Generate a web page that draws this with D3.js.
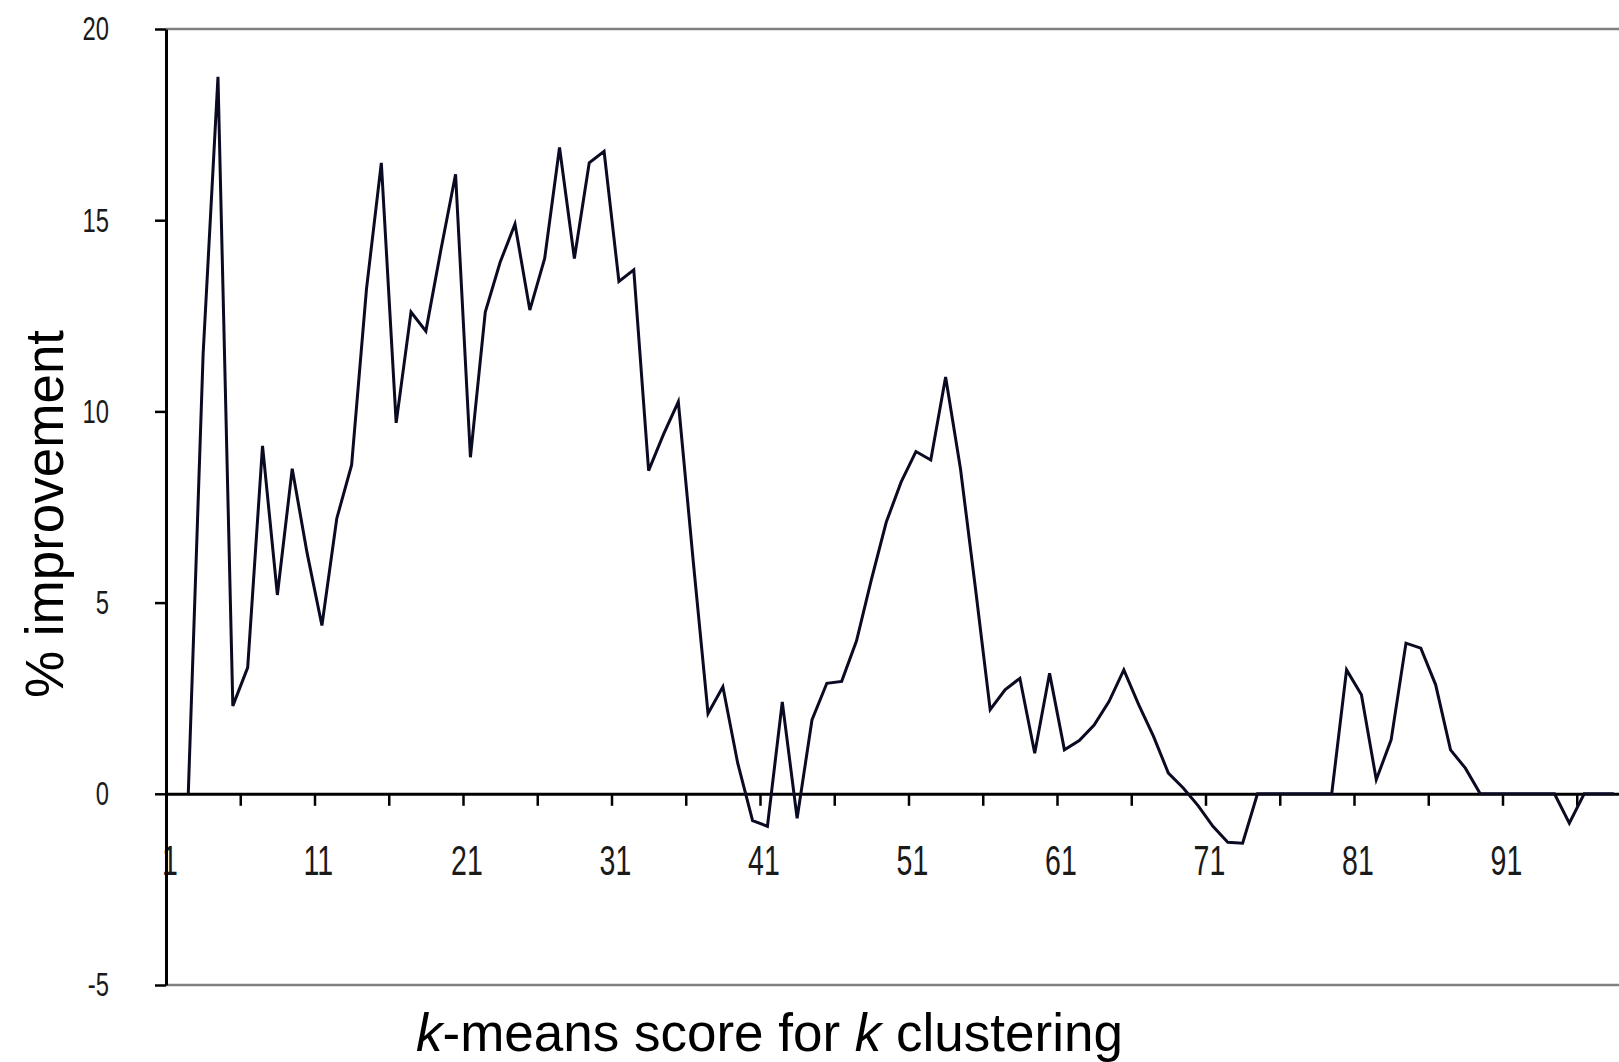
<!DOCTYPE html>
<html>
<head>
<meta charset="utf-8">
<script src="https://cdn.jsdelivr.net/npm/d3@7"></script>
<style>
    html, body { margin: 0; padding: 0; background: #fff; overflow: hidden; }
    .tick text { font-family: "Liberation Sans", Arial, Helvetica, sans-serif; }
</style>
</head>
<body>
<svg id="drawing_region"></svg>
<script>
// k values (categories on the x axis)
const categories = [
    1, 2, 3, 4, 5, 6, 7, 8, 9, 10,
    11, 12, 13, 14, 15, 16, 17, 18, 19, 20,
    21, 22, 23, 24, 25, 26, 27, 28, 29, 30,
    31, 32, 33, 34, 35, 36, 37, 38, 39, 40,
    41, 42, 43, 44, 45, 46, 47, 48, 49, 50,
    51, 52, 53, 54, 55, 56, 57, 58, 59, 60,
    61, 62, 63, 64, 65, 66, 67, 68, 69, 70,
    71, 72, 73, 74, 75, 76, 77, 78, 79, 80,
    81, 82, 83, 84, 85, 86, 87, 88, 89, 90,
    91, 92, 93, 94, 95, 96, 97, 98
];

// % improvement (k = 1 has no point)
const improvement = [
    null, 0, 11.5, 18.75, 2.3, 3.3, 9.1, 5.2, 8.5, 6.3,
    4.4, 7.2, 8.6, 13.2, 16.5, 9.7, 12.6, 12.1, 14.2, 16.2,
    8.8, 12.6, 13.9, 14.9, 12.65, 14.0, 16.9, 14.0, 16.5, 16.8,
    13.4, 13.7, 8.45, 9.4, 10.25, 6.1, 2.1, 2.8, 0.8, -0.7,
    -0.85, 2.4, -0.64, 1.93, 2.89, 2.94, 4.0, 5.6, 7.1, 8.15,
    8.95, 8.73, 10.9, 8.5, 5.4, 2.2, 2.72, 3.02, 1.06, 3.15,
    1.15, 1.39, 1.8, 2.41, 3.24, 2.33, 1.5, 0.54, 0.15, -0.31,
    -0.85, -1.27, -1.29, 0, 0, 0, 0, 0, 0, 3.24,
    2.59, 0.37, 1.41, 3.94, 3.81, 2.85, 1.15, 0.67, 0, 0,
    0, 0, 0, 0, -0.77, 0, 0, 0
];

const yTickValues = [-5, 0, 5, 10, 15, 20];
const xTickMarks = [1, 6, 11, 16, 21, 26, 31, 36, 41, 46, 51, 56, 61, 66, 71, 76, 81, 86, 91, 96];
const xTickLabels = [1, 11, 21, 31, 41, 51, 61, 71, 81, 91];

const yTitle = "% improvement";

class LineChart {

    constructor( config, data ) {
        this.config = {
            parent: config.parent,
            width: config.width || 1619,
            height: config.height || 1062,
            margin: config.margin,
            step: config.step,
            slots: config.slots
        }
        this.data = data;
        this.init();
    }

    init() {
        let self = this;
        const m = self.config.margin;

        self.svg = d3.select( self.config.parent )
            .attr('width', self.config.width)
            .attr('height', self.config.height);

        self.chart = self.svg.append('g');

        // categories sit between tick marks, like the spreadsheet chart
        self.xscale = d3.scaleLinear()
            .domain([0.5, self.config.slots + 0.5])
            .range([m.left, m.left + self.config.slots * self.config.step]);

        self.yscale = d3.scaleLinear()
            .domain([-5, 20])
            .range([m.bottom, m.top]);

        self.line = d3.line()
            .defined( d => d.v !== null )
            .x( d => self.xscale(d.k) )
            .y( d => self.yscale(d.v) );
    }

    update() {
        let self = this;
        self.render();
    }

    render() {
        let self = this;
        const x = self.xscale, y = self.yscale;
        const right = self.config.width;

        // grey frame lines at top and bottom
        [20, -5].forEach( v => {
            self.chart.append('line')
                .attr('x1', x(0.5)).attr('x2', right)
                .attr('y1', y(v)).attr('y2', y(v))
                .attr('stroke', '#808080')
                .attr('stroke-width', 2.5);
        });

        // x axis along zero
        const xaxis = d3.axisBottom(x)
            .tickValues( xTickMarks.map( k => k - 0.5 ) )
            .tickSize(12)
            .tickSizeOuter(0)
            .tickPadding(39)
            .tickFormat( v => xTickLabels.includes(v + 0.5) ? String(v + 0.5) : "" );

        const xg = self.chart.append('g')
            .attr('transform', `translate(0, ${y(0)})`)
            .call(xaxis);
        xg.attr('font-family', null);
        xg.select('.domain').attr('stroke', '#000').attr('stroke-width', 3);
        xg.selectAll('.tick line').attr('stroke', '#000').attr('stroke-width', 2.5);
        xg.selectAll('.tick text')
            .attr('font-size', 42)
            .attr('fill', '#1a1a1a')
            .attr('x', 5)
            .attr('transform', 'scale(0.68,1)');

        // y axis
        const yaxis = d3.axisLeft(y)
            .tickValues(yTickValues)
            .tickSize(11)
            .tickSizeOuter(0)
            .tickFormat( d => String(d) );

        const yg = self.chart.append('g')
            .attr('transform', `translate(${x(0.5)}, 0)`)
            .call(yaxis);
        yg.attr('font-family', null);
        yg.select('.domain').attr('stroke', '#000').attr('stroke-width', 3);
        yg.selectAll('.tick line').attr('stroke', '#000').attr('stroke-width', 2.5);
        yg.selectAll('.tick text')
            .attr('font-size', 34)
            .attr('fill', '#1a1a1a')
            .attr('x', -57 / 0.7)
            .attr('transform', 'scale(0.7,1)');

        // the series
        self.chart.append('path')
            .datum(self.data)
            .attr('d', self.line)
            .attr('fill', 'none')
            .attr('stroke', '#0a0a22')
            .attr('stroke-width', 3)
            .attr('stroke-linejoin', 'miter');

        // axis titles
        self.svg.append('text')
            .attr('transform', `translate(63, 514) rotate(-90)`)
            .attr('text-anchor', 'middle')
            .attr('font-family', '"Liberation Sans", Arial, sans-serif')
            .attr('font-size', 53)
            .attr('fill', '#000')
            .text(yTitle);

        const xt = self.svg.append('text')
            .attr('x', 416)
            .attr('y', 1051)
            .attr('font-family', '"Liberation Sans", Arial, sans-serif')
            .attr('font-size', 53)
            .attr('fill', '#000');
        xt.append('tspan').attr('font-style', 'italic').text('k');
        xt.append('tspan').text('-means score for ');
        xt.append('tspan').attr('font-style', 'italic').text('k');
        xt.append('tspan').text(' clustering');
    }
}

const data = categories.map( (k, i) => ({ k: k, v: improvement[i] }) );

const config = {
    parent: '#drawing_region',
    width: 1619,
    height: 1062,
    margin: { left: 166, top: 29, bottom: 985 },
    step: 14.85,
    slots: 100
};

const linechart = new LineChart( config, data );
linechart.update();
</script>
</body>
</html>
